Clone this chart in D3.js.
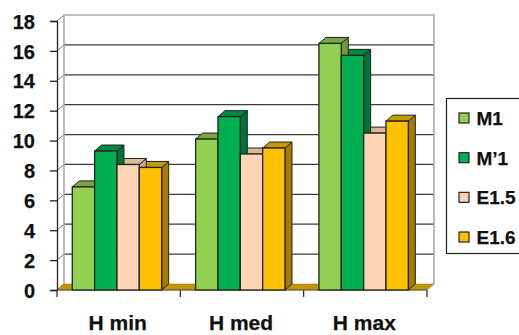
<!DOCTYPE html>
<html>
<head>
<meta charset="utf-8">
<script src="https://cdn.jsdelivr.net/npm/d3@7"></script>
<style>
  html, body { margin: 0; background: #fff; }
  text { font-family: "Liberation Sans", Arial, sans-serif; font-weight: bold; fill: #111; stroke: #111; stroke-width: 0.25px; }
</style>
</head>
<body>
<svg width="519" height="335"></svg>
<script>
const categories = ['H min', 'H med', 'H max'];
const seriesNames = ['M1', 'M\u20191', 'E1.5', 'E1.6'];
const m1 = [6.9, 10.1, 16.5];
const m1prime = [9.3, 11.6, 15.7];
const e15 = [8.4, 9.1, 10.5];
const e16 = [8.2, 9.5, 11.3];
const seriesValues = [m1, m1prime, e15, e16];
const yTicks = [0, 2, 4, 6, 8, 10, 12, 14, 16, 18];

const frontColors = ['#92d050', '#00b050', '#fcd5b5', '#ffc000'];
const sideColors = ['#6f9a3d', '#00733a', '#c9a78a', '#a67c00'];
const topColors = ['#76a83f', '#008a40', '#dcb798', '#c99a00'];

const svg = d3.select('svg');
const g = svg.append('g');

// voorvlak van de grafiek
const plotLeft = 57, plotRight = 427, plotBottom = 290, plotTop = 21;
// diepte van het 3d effect
const dx = 7, dy = -6;

const yScale = d3.scaleLinear().domain([0, 18]).range([plotBottom, plotTop]);
const xScale = d3.scaleBand().domain(categories).range([plotLeft, plotRight]);
const barScale = d3.scaleBand().domain(d3.range(seriesNames.length))
  .range([0, xScale.bandwidth()]).paddingOuter(0.76).paddingInner(0).align(0.45);

const poly = pts => pts.map(p => p.join(',')).join(' ');

// gridlijnen op de achterwand, schuin op de linker wand
const grid = g.append('g');
grid.selectAll('line.back').data(yTicks.filter(d => d > 0 && d < 18))
  .enter().append('line')
    .attr('class', 'back')
    .attr('x1', plotLeft + dx).attr('x2', plotRight + dx)
    .attr('y1', d => yScale(d) + dy).attr('y2', d => yScale(d) + dy)
    .attr('stroke', '#3c3c3c').attr('stroke-width', 1.3);
grid.selectAll('line.side').data(yTicks)
  .enter().append('line')
    .attr('class', 'side')
    .attr('x1', plotLeft).attr('x2', plotLeft + dx)
    .attr('y1', d => yScale(d)).attr('y2', d => yScale(d) + dy)
    .attr('stroke', '#777').attr('stroke-width', 1);

// randen van de wanden
g.append('path')
  .attr('d', `M${plotLeft + dx},${plotBottom + dy}V${plotTop + dy}H${plotRight + dx}V${plotBottom + dy}`)
  .attr('fill', 'none').attr('stroke', '#aaa').attr('stroke-width', 1.6);

// vloer
g.append('polygon')
  .attr('points', poly([[plotLeft, plotBottom], [plotRight, plotBottom], [plotRight + dx, plotBottom + dy], [plotLeft + dx, plotBottom + dy]]))
  .attr('fill', '#c49500').attr('stroke', '#8a6a10').attr('stroke-width', 0.5);

// y as
g.append('g')
  .attr('transform', `translate(${plotLeft},0)`)
  .call(d3.axisLeft(yScale).tickValues(yTicks).tickSize(7).tickPadding(15))
  .call(a => a.selectAll('path, line').attr('stroke', '#222').attr('stroke-width', 1.3))
  .call(a => a.selectAll('text').attr('font-size', 20).attr('font-family', null).attr('dy', '0.36em'));

// x as, streepjes op de grenzen van de banden
const edges = categories.map(c => xScale(c)).concat(plotRight);
g.selectAll('line.xtick').data(edges)
  .enter().append('line')
    .attr('class', 'xtick')
    .attr('x1', d => d).attr('x2', d => d)
    .attr('y1', plotBottom).attr('y2', plotBottom + 7)
    .attr('stroke', '#222').attr('stroke-width', 1.2);
g.append('line')
  .attr('x1', plotLeft).attr('x2', plotRight).attr('y1', plotBottom).attr('y2', plotBottom)
  .attr('stroke', '#555').attr('stroke-width', 1);
g.selectAll('text.xlabel').data(categories)
  .enter().append('text')
    .attr('class', 'xlabel')
    .attr('x', d => xScale(d) + xScale.bandwidth() / 2 - 1)
    .attr('y', 330)
    .attr('text-anchor', 'middle')
    .attr('font-size', 21)
    .text(d => d);

// balken: eerst zij- en bovenkanten van rechts naar links, daarna alle voorkanten
const bars = [];
categories.forEach((c, i) => {
  seriesValues.forEach((values, s) => {
    bars.push({ c, s, value: values[i], x: xScale(c) + barScale(s), w: barScale.bandwidth() });
  });
});

const barsG = g.append('g');
barsG.selectAll('g.depth').data(bars.slice().reverse())
  .enter().append('g')
    .attr('class', 'depth')
    .each(function(d) {
      const y = yScale(d.value);
      const el = d3.select(this);
      el.append('polygon')
        .attr('points', poly([[d.x + d.w, plotBottom], [d.x + d.w + dx, plotBottom + dy], [d.x + d.w + dx, y + dy], [d.x + d.w, y]]))
        .attr('fill', sideColors[d.s]).attr('stroke', '#222').attr('stroke-width', 1);
      el.append('polygon')
        .attr('points', poly([[d.x, y], [d.x + dx, y + dy], [d.x + d.w + dx, y + dy], [d.x + d.w, y]]))
        .attr('fill', topColors[d.s]).attr('stroke', '#222').attr('stroke-width', 1);
    });

barsG.selectAll('rect').data(bars)
  .enter().append('rect')
    .attr('x', d => d.x)
    .attr('y', d => yScale(d.value))
    .attr('width', d => d.w)
    .attr('height', d => plotBottom - yScale(d.value))
    .attr('fill', d => frontColors[d.s])
    .attr('stroke', '#222').attr('stroke-width', 1.3);

// legenda, rechterkant valt buiten beeld
const legendY = d3.scalePoint().domain(seriesNames).range([118, 237]);
g.append('rect')
  .attr('x', 446.5).attr('y', 98.5).attr('width', 80).attr('height', 155)
  .attr('fill', '#fff').attr('stroke', '#222').attr('stroke-width', 1.2);
const legend = g.selectAll('g.legend').data(seriesNames)
  .enter().append('g')
    .attr('class', 'legend')
    .attr('transform', d => `translate(0,${legendY(d)})`);
legend.append('rect')
  .attr('x', 459).attr('y', -5).attr('width', 10).attr('height', 10)
  .attr('fill', (d, i) => frontColors[i])
  .attr('stroke', '#222').attr('stroke-width', 1.2);
legend.append('text')
  .attr('x', 476.5).attr('y', 7)
  .attr('font-size', 19)
  .text(d => d);
</script>
</body>
</html>
